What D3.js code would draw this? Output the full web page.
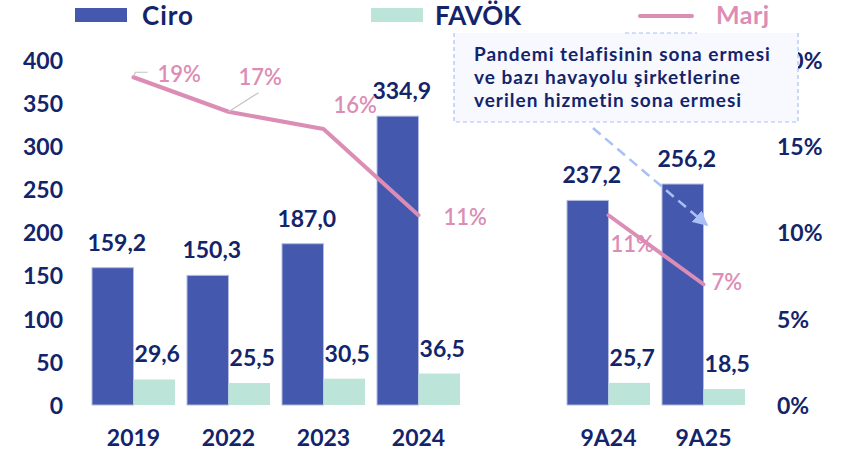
<!DOCTYPE html>
<html>
<head>
<meta charset="utf-8">
<script src="https://cdn.jsdelivr.net/npm/d3@7"></script>
<style>
  html, body { margin: 0; padding: 0; background: #fff; }
  svg { display: block; font-family: Lato, "Open Sans", sans-serif; }
</style>
</head>
<body>
<svg id="chart" width="848" height="453"></svg>
<script>
// Periods shown on the x axis ("" is an empty spacer slot)
const categories = ["2019", "2022", "2023", "2024", "", "9A24", "9A25"];
// Revenue (Ciro) and EBITDA (FAVÖK), in millions
const ciro  = [159.2, 150.3, 187.0, 334.9, null, 237.2, 256.2];
const favok = [29.6, 25.5, 30.5, 36.5, null, 25.7, 18.5];
// Margin (Marj), percent
const marj  = [19, 17, 16, 11, null, 11, 7];
// Axis ticks
const leftTicks  = [0, 50, 100, 150, 200, 250, 300, 350, 400];
const rightTicks = [0, 5, 10, 15, 20];
const noteLines = [
  "Pandemi telafisinin sona ermesi",
  "ve bazı havayolu şirketlerine",
  "verilen hizmetin sona ermesi"
];

const NAVY = "#13246b", BLUE = "#4459ae", MINT = "#bce4d9", PINK = "#dc8db5",
      DASH = "#a9c0f7";

const svg = d3.select("#chart");

const x = d3.scaleBand().domain(categories).range([86, 751])
  .paddingInner(12 / 95).paddingOuter(6 / 95);
const sub = d3.scaleBand().domain(["ciro", "favok"]).range([0, x.bandwidth()]);
const y = d3.scaleLinear().domain([0, 400]).range([405, 60]);
const yR = d3.scaleLinear().domain([0, 20]).range([405, 60]);

// Left axis
const gL = svg.append("g").attr("transform", "translate(63,0)")
  .call(d3.axisLeft(y).tickValues(leftTicks).tickSize(0).tickPadding(0));
gL.select(".domain").remove();
gL.selectAll("text").attr("fill", NAVY).attr("font-size", 23).attr("font-weight", 700)
  .attr("font-family", "Lato").attr("dy", "0.36em");

// Right axis
const gR = svg.append("g").attr("transform", "translate(777,0)")
  .call(d3.axisRight(yR).tickValues(rightTicks).tickSize(0).tickPadding(0)
    .tickFormat(d => d + "%"));
gR.select(".domain").remove();
gR.selectAll("text").attr("fill", NAVY).attr("font-size", 23).attr("font-weight", 700)
  .attr("font-family", "Lato").attr("dy", "0.36em");

// Category labels
svg.append("g").selectAll("text")
  .data(categories.filter(c => c !== ""))
  .join("text")
  .attr("x", d => x(d) + x.bandwidth() / 2)
  .attr("y", 446)
  .attr("text-anchor", "middle")
  .attr("fill", NAVY).attr("font-size", 23).attr("font-weight", 700)
  .text(d => d);

const rows = categories.map((c, i) => ({ c, ciro: ciro[i], favok: favok[i], marj: marj[i] }))
  .filter(d => d.c !== "");

// Bars
svg.append("g").selectAll("rect").data(rows).join("rect")
  .attr("x", d => x(d.c) + sub("ciro"))
  .attr("y", d => y(d.ciro))
  .attr("width", sub.bandwidth())
  .attr("height", d => y(0) - y(d.ciro))
  .attr("fill", BLUE).attr("stroke", "#b3bbe2").attr("stroke-width", 1);

svg.append("g").selectAll("rect").data(rows).join("rect")
  .attr("x", d => x(d.c) + sub("favok"))
  .attr("y", d => y(d.favok))
  .attr("width", sub.bandwidth())
  .attr("height", d => y(0) - y(d.favok))
  .attr("fill", MINT);

const fmt = v => v.toFixed(1).replace(".", ",");

// Value labels
svg.append("g").selectAll("text").data(rows).join("text")
  .attr("x", d => x(d.c) + sub("ciro") + sub.bandwidth() / 2 + 4)
  .attr("y", d => y(d.ciro) - 17)
  .attr("text-anchor", "middle")
  .attr("fill", NAVY).attr("font-size", 23).attr("font-weight", 700)
  .text(d => fmt(d.ciro));

svg.append("g").selectAll("text").data(rows).join("text")
  .attr("x", d => x(d.c) + sub("favok") + sub.bandwidth() / 2 + 3)
  .attr("y", d => y(d.favok) - 17)
  .attr("text-anchor", "middle")
  .attr("fill", NAVY).attr("font-size", 23).attr("font-weight", 700)
  .text(d => fmt(d.favok));

// Margin line (broken at the spacer slot)
const cx = c => x(c) + x.bandwidth() / 2;
const line = d3.line()
  .defined((d, i) => marj[i] !== null)
  .x((d, i) => cx(categories[i]))
  .y((d, i) => yR(marj[i]));
svg.append("path").datum(categories)
  .attr("d", line)
  .attr("fill", "none").attr("stroke", PINK).attr("stroke-width", 4)
  .attr("stroke-linejoin", "round").attr("stroke-linecap", "round");

// Margin labels with their offsets from the line points
const labelOffsets = [[24, 5], [10, -27], [10, -16], [25, 10], null, [2, 37], [8, 6]];
// Leader lines for the first two labels
svg.append("path")
  .attr("d", `M${cx("2019")},${yR(19) - 1} L${cx("2019") + 2},${yR(19) - 5} L${cx("2019") + 14},${yR(19) - 5}`)
  .attr("fill", "none").attr("stroke", "#c4c4c4").attr("stroke-width", 1.2);
svg.append("path")
  .attr("d", `M${cx("2022")},${yR(17)} L${cx("2022") + 30},${yR(17) - 19}`)
  .attr("fill", "none").attr("stroke", "#c4c4c4").attr("stroke-width", 1.2);

svg.append("g").selectAll("text")
  .data(categories.map((c, i) => ({ c, v: marj[i], o: labelOffsets[i] })).filter(d => d.v !== null))
  .join("text")
  .attr("x", d => cx(d.c) + d.o[0])
  .attr("y", d => yR(d.v) + d.o[1])
  .attr("fill", PINK).attr("font-size", 22).attr("font-weight", 600)
  .text(d => d.v + "%");

// Note box
const note = svg.append("g");
note.append("rect").attr("x", 454).attr("y", 33).attr("width", 344).attr("height", 89)
  .attr("fill", "#f8f8ff");
note.append("path")
  .attr("d", "M625,33 L697,33 M454,33 L454,122 L798,122 L798,33")
  .attr("fill", "none").attr("stroke", DASH).attr("stroke-width", 1.2)
  .attr("stroke-dasharray", "4,3");
note.selectAll("text").data(noteLines).join("text")
  .attr("x", 474).attr("y", (d, i) => 61 + i * 23)
  .attr("fill", NAVY).attr("font-size", 19).attr("font-weight", 700)
  .attr("letter-spacing", 1)
  .text(d => d);

// Dashed arrow from the note to the 9A25 margin
svg.append("defs").append("marker")
  .attr("id", "head").attr("viewBox", "0 0 10 10").attr("refX", 9).attr("refY", 5)
  .attr("markerWidth", 6).attr("markerHeight", 6).attr("orient", "auto")
  .attr("markerUnits", "strokeWidth")
  .append("path").attr("d", "M0,0 L10,5 L0,10 Z").attr("fill", DASH);
svg.append("line")
  .attr("x1", 593).attr("y1", 128).attr("x2", 707).attr("y2", 225)
  .attr("stroke", DASH).attr("stroke-width", 2.5).attr("stroke-dasharray", "10,6")
  .attr("marker-end", "url(#head)");

// Legend
const legend = svg.append("g");
legend.append("rect").attr("x", 75).attr("y", 8).attr("width", 52).attr("height", 14).attr("fill", BLUE);
legend.append("text").attr("x", 142).attr("y", 25).text("Ciro")
  .attr("fill", NAVY).attr("font-size", 26).attr("font-weight", 700).attr("letter-spacing", 1);
legend.append("rect").attr("x", 371).attr("y", 8).attr("width", 52).attr("height", 14).attr("fill", MINT);
legend.append("text").attr("x", 435).attr("y", 25).text("FAVÖK")
  .attr("fill", NAVY).attr("font-size", 26).attr("font-weight", 700);
legend.append("line").attr("x1", 640).attr("x2", 692).attr("y1", 16).attr("y2", 16)
  .attr("stroke", PINK).attr("stroke-width", 4).attr("stroke-linecap", "round");
legend.append("text").attr("x", 716).attr("y", 24).text("Marj")
  .attr("fill", PINK).attr("font-size", 25).attr("font-weight", 700).attr("letter-spacing", 0.5);
</script>
</body>
</html>
